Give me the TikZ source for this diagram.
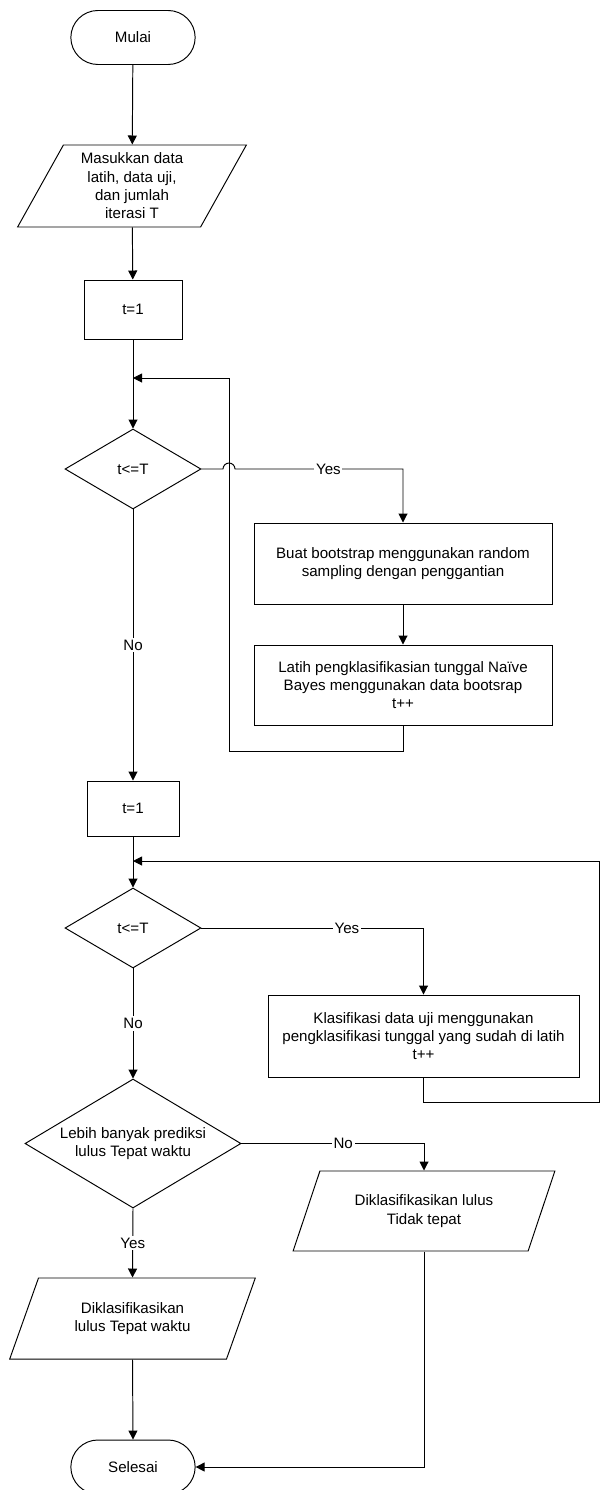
\documentclass[tikz,border=0pt]{standalone}
\usepackage{fontspec}
\setmainfont{Liberation Sans}
\usetikzlibrary{shapes.geometric,shapes.misc,arrows.meta}

\newlength{\pxu}
\setlength{\pxu}{0.02cm}
\tikzset{
            base/.style={draw, line width=0.55pt, align=center, font=\fontsize{8.6}{10.4}\selectfont},
            terminal/.style={base, rounded rectangle, minimum width=136\pxu, minimum height=54\pxu},
            proses/.style={base, rectangle, inner sep=2pt},
            keputusan/.style={base, diamond, inner sep=1pt},
            masukan/.style={base, trapezium, trapezium left angle=63, trapezium right angle=117, trapezium stretches=true, inner sep=1pt},
            alur/.style={line width=0.55pt, -{Triangle[length=1.8mm, width=1.8mm]}},
            ket/.style={fill=white, inner sep=1pt, font=\fontsize{8.6}{10.4}\selectfont}
        }

\begin{document}
\begin{tikzpicture}[x=\pxu, y=-\pxu]
                \useasboundingbox (0,0) rectangle (600,1490);

                % tahap pelatihan
                \node[terminal] (mulai) at (133,37.5) {Mulai};
                \node[masukan, minimum width=230\pxu, minimum height=82\pxu] (input) at (132,186)
                    {Masukkan data\\latih, data uji,\\dan jumlah\\iterasi T};
                \node[proses, minimum width=98\pxu, minimum height=59\pxu] (awal1) at (133,309.5) {t=1};
                \node[keputusan, aspect=1.7, minimum width=136\pxu, minimum height=80\pxu] (cek1) at (133,469) {t<=T};
                \node[proses, minimum width=298\pxu, minimum height=81\pxu] (boot) at (403,563.5)
                    {Buat bootstrap menggunakan random\\sampling dengan penggantian};
                \node[proses, minimum width=298\pxu, minimum height=80\pxu] (latih) at (403,685)
                    {Latih pengklasifikasian tunggal Naïve\\Bayes menggunakan data bootsrap\\t++};

                % tahap pengujian
                \node[proses, minimum width=92\pxu, minimum height=55\pxu] (awal2) at (133,808.5) {t=1};
                \node[keputusan, aspect=1.7, minimum width=136\pxu, minimum height=80\pxu] (cek2) at (133,928) {t<=T};
                \node[proses, minimum width=311\pxu, minimum height=82\pxu] (klas) at (423.5,1036)
                    {Klasifikasi data uji menggunakan\\pengklasifikasi tunggal yang sudah di latih\\t++};
                \node[keputusan, aspect=1.67, minimum width=216\pxu, minimum height=129\pxu] (voting) at (133,1143.5)
                    {Lebih banyak prediksi\\lulus Tepat waktu};
                \node[masukan, minimum width=247\pxu, minimum height=81\pxu] (tepat) at (132.5,1318.5)
                    {Diklasifikasikan\\lulus Tepat waktu};
                \node[masukan, minimum width=262\pxu, minimum height=80\pxu] (tidak) at (424,1211)
                    {Diklasifikasikan lulus\\Tidak tepat};
                \node[terminal] (selesai) at (133,1467) {Selesai};

                % titik belok
                \coordinate (masuk1) at (133,378);
                \coordinate (balik1) at (229,751);
                \coordinate (lompat) at (223,469);
                \coordinate (masuk2) at (133,861);
                \coordinate (balik2) at (599,1102);

                \draw[alur] (mulai) -- (input);
                \draw[alur] (input) -- (awal1);
                \draw[alur] (awal1) -- (cek1);
                \draw[alur] (cek1.east) -- (lompat) arc[start angle=180, end angle=0, radius=0.12cm]
                    -- node[ket, pos=.556] {Yes} (boot.north |- cek1.east) -- (boot.north);
                \draw[alur] (boot) -- (latih);
                \draw[alur] (latih.south) |- (balik1) |- (masuk1);
                \draw[alur] (cek1.south) -- node[ket] {No} (awal2.north);
                \draw[alur] (awal2) -- (cek2);
                \draw[alur] (cek2.east) -- node[ket, pos=.655] {Yes} (klas.north |- cek2.east) -- (klas.north);
                \draw[alur] (klas.south) |- (balik2) |- (masuk2);
                \draw[alur] (cek2.south) -- node[ket] {No} (voting.north);
                \draw[alur] (voting.east) -- node[ket, pos=.557] {No} (tidak.north |- voting.east) -- (tidak.north);
                \draw[alur] (voting.south) -- node[ket] {Yes} (tepat.north);
                \draw[alur] (tepat.south) -- (selesai.north);
                \draw[alur] (tidak.south) |- (selesai.east);
            \end{tikzpicture}
\end{document}
